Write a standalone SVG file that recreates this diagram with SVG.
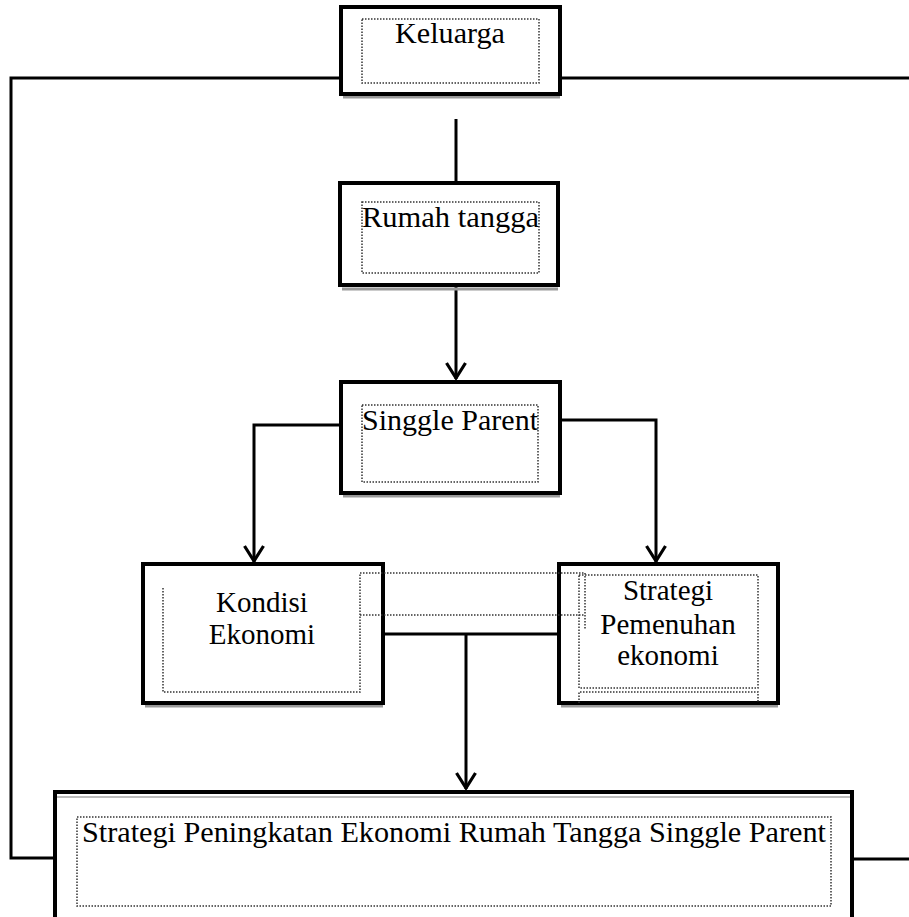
<svg xmlns="http://www.w3.org/2000/svg" width="909" height="917" viewBox="0 0 909 917">
<defs>
<style>
.box{fill:#fff;stroke:#000;stroke-width:4}
.shadow{fill:none;stroke:#999;stroke-width:3}
.dot{fill:none;stroke:#333;stroke-width:1.5;stroke-dasharray:1.5 1.5}
.con{fill:none;stroke:#000;stroke-width:3}
text{font-family:"Liberation Serif","Times New Roman",serif;font-size:29px;fill:#000}
</style>
<marker id="arr" viewBox="0 0 22 22" refX="20" refY="11" markerWidth="22" markerHeight="22" markerUnits="userSpaceOnUse" orient="auto">
<path d="M4,1.5 L19,11 L4,20.5" fill="none" stroke="#000" stroke-width="3.2"/>
</marker>
</defs>
<rect width="909" height="917" fill="#fff"/>
<g id="connectors">
<path class="con" d="M341,78 H11 V858 H55"/>
<path class="con" d="M560,78 H909"/>
<path class="con" d="M852,859 H909"/>
<path class="con" d="M456,119 V183"/>
<path class="con" d="M456,287 V379" marker-end="url(#arr)"/>
<path class="con" d="M341,425 H254 V562" marker-end="url(#arr)"/>
<path class="con" d="M560,420 H656 V562" marker-end="url(#arr)"/>
<path class="con" d="M383,634 H466 M466,634 H559"/>
<path class="con" d="M466,634 V789" marker-end="url(#arr)"/>
</g>
<g id="keluarga">
<line class="shadow" x1="343" y1="97" x2="560" y2="97"/>
<rect class="box" x="341" y="7" width="219" height="87"/>
<rect class="dot" x="362" y="19" width="177" height="64"/>
<text x="450" y="43" text-anchor="middle" textLength="110" lengthAdjust="spacingAndGlyphs">Keluarga</text>
</g>
<g id="rumah-tangga">
<line class="shadow" x1="342" y1="289" x2="558" y2="289"/>
<rect class="box" x="340" y="183" width="218" height="102"/>
<rect class="dot" x="362" y="202" width="177" height="71"/>
<text x="362" y="227" textLength="177" lengthAdjust="spacingAndGlyphs">Rumah tangga</text>
</g>
<g id="singgle-parent">
<line class="shadow" x1="343" y1="496" x2="560" y2="496"/>
<rect class="box" x="341" y="382" width="219" height="111"/>
<rect class="dot" x="362" y="405" width="176" height="77"/>
<text x="362" y="430" textLength="176" lengthAdjust="spacingAndGlyphs">Singgle  Parent</text>
</g>
<g id="kondisi-ekonomi">
<line class="shadow" x1="145" y1="706" x2="383" y2="706"/>
<rect class="box" x="143" y="564" width="240" height="139"/>
<path class="dot" d="M163,588 V692 H360 V573"/>
<text x="262" y="612" text-anchor="middle">Kondisi</text>
<text x="262" y="644" text-anchor="middle">Ekonomi</text>
</g>
<g id="strategi-pemenuhan">
<line class="shadow" x1="561" y1="706" x2="778" y2="706"/>
<rect class="box" x="559" y="564" width="219" height="139"/>
<rect class="dot" x="579" y="575" width="179" height="113"/>
<path class="dot" d="M579,703 V692 H758 V703"/>
<text x="668" y="600" text-anchor="middle">Strategi</text>
<text x="668" y="634" text-anchor="middle">Pemenuhan</text>
<text x="668" y="665" text-anchor="middle">ekonomi</text>
</g>
<g id="overlap-frame">
<path class="dot" d="M360,573 H585 V630"/>
<path class="dot" d="M360,615 H585"/>
</g>
<g id="strategi-peningkatan">
<rect class="box" x="55" y="792" width="797" height="140"/>
<line x1="57" y1="797" x2="850" y2="797" stroke="#bbb" stroke-width="2"/>
<rect class="dot" x="77" y="817" width="754" height="89"/>
<text x="82" y="842" textLength="744" lengthAdjust="spacingAndGlyphs">Strategi Peningkatan Ekonomi Rumah Tangga Singgle Parent</text>
</g>
</svg>
